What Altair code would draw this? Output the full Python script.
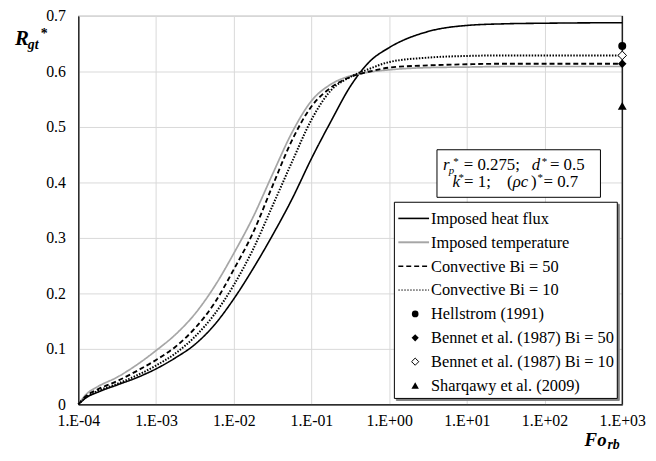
import json
import altair as alt
import pandas as pd

# ---------------- data ----------------
fo = [1e-4, 1.26e-4, 1.78e-4, 3.16e-4, 5.62e-4, 1e-3, 1.78e-3, 3.16e-3, 5.62e-3,
      1e-2, 1.78e-2, 3.16e-2, 5.62e-2, 1e-1, 1.78e-1, 3.16e-1, 5.62e-1,
      1.0, 3.16, 10.0, 31.6, 100.0, 1000.0]
heat_flux = [0, 0.012, 0.022, 0.035, 0.048, 0.064, 0.084, 0.108, 0.143, 0.190,
             0.245, 0.305, 0.370, 0.443, 0.510, 0.573, 0.618, 0.643, 0.672,
             0.683, 0.686, 0.687, 0.688]
imposed_temp = [0, 0.018, 0.032, 0.049, 0.071, 0.097, 0.126, 0.163, 0.212, 0.272,
                0.338, 0.415, 0.490, 0.547, 0.577, 0.592, 0.599, 0.603, 0.607,
                0.608, 0.609, 0.609, 0.609]
conv_bi50 = [0, 0.015, 0.027, 0.042, 0.060, 0.080, 0.104, 0.137, 0.182, 0.243,
             0.310, 0.394, 0.476, 0.537, 0.571, 0.590, 0.600, 0.607, 0.611,
             0.613, 0.614, 0.614, 0.614]
conv_bi10 = [0, 0.013, 0.024, 0.037, 0.052, 0.070, 0.092, 0.122, 0.162, 0.215,
             0.280, 0.358, 0.437, 0.513, 0.566, 0.590, 0.605, 0.617, 0.625,
             0.628, 0.629, 0.629, 0.629]

series_names = ["Imposed heat flux", "Imposed temperature",
                "Convective Bi = 50", "Convective Bi = 10"]
point_names = ["Hellstrom (1991)", "Bennet et al. (1987) Bi = 50",
               "Bennet et al. (1987) Bi = 10", "Sharqawy et al. (2009)"]
point_fo = [1000.0, 1000.0, 1000.0, 1000.0]
point_r = [0.646, 0.614, 0.629, 0.538]

x_ticks = [1e-4, 1e-3, 1e-2, 1e-1, 1e0, 1e1, 1e2, 1e3]
x_tick_labels = ["1.E-04", "1.E-03", "1.E-02", "1.E-01",
                 "1.E+00", "1.E+01", "1.E+02", "1.E+03"]
y_ticks = [0, 0.1, 0.2, 0.3, 0.4, 0.5, 0.6, 0.7]

# ---------------- styling ----------------
W, H = 549, 392
SERIF = "Liberation Serif, Times New Roman, Times, DejaVu Serif, serif"
GRID = "#d9d9d9"
GRAY = "#a6a6a6"

rows = []
for name, vals in zip(series_names, [heat_flux, imposed_temp, conv_bi50, conv_bi10]):
    for f, r in zip(fo, vals):
        rows.append({"Fo": f, "R": r, "series": name})
df_lines = pd.DataFrame(rows)

xs = alt.Scale(type="log", domain=[1e-4, 1e3])
ys = alt.Scale(domain=[0, 0.7], nice=False)

x_axis = alt.Axis(values=x_ticks, title=None, grid=True, gridColor=GRID,
                  ticks=False, domainColor="black", domainWidth=1.2,
                  labelFont=SERIF, labelFontSize=16, labelColor="black",
                  labelPadding=8, labelFlush=False, labelOverlap=False,
                  labelExpr=json.dumps(x_tick_labels) +
                  "[round(log(datum.value)/LN10)+4]")
y_axis = alt.Axis(values=y_ticks, title=None, grid=True, gridColor=GRID,
                  ticks=False, domainColor="black", domainWidth=1.2,
                  labelFont=SERIF, labelFontSize=16, labelColor="black",
                  labelPadding=13, labelFlush=False, labelOverlap=False,
                  format=".1~f")

X = alt.X("Fo:Q", scale=xs, axis=x_axis)
Y = alt.Y("R:Q", scale=ys, axis=y_axis)

lines = alt.Chart(df_lines).mark_line(interpolate="monotone").encode(
    x=X, y=Y,
    color=alt.Color("series:N", legend=None,
                    scale=alt.Scale(domain=series_names,
                                    range=["black", GRAY, "black", "black"])),
    strokeDash=alt.StrokeDash("series:N", legend=None,
                              scale=alt.Scale(domain=series_names,
                                              range=[[1, 0], [1, 0], [5, 3], [1.5, 1.5]])),
    strokeWidth=alt.StrokeWidth("series:N", legend=None,
                                scale=alt.Scale(domain=series_names,
                                                range=[1.6, 2.0, 1.5, 1.2])),
)

right_rule = alt.Chart(pd.DataFrame({"Fo": [1000.0], "R": [0.0], "R2": [0.7]})).mark_rule(
    color="black", strokeWidth=1.2).encode(x=X, y=Y, y2="R2:Q")

df_pts = pd.DataFrame({"Fo": point_fo, "R": point_r, "name": point_names})
pt_styles = [
    dict(shape="circle", filled=True, color="black", size=65),
    dict(shape="diamond", filled=True, color="black", size=75),
    dict(shape="diamond", filled=True, fill="white", stroke="black", strokeWidth=1, size=75),
    dict(shape="triangle-up", filled=True, color="black", size=80),
]
pts = []
for name, st in zip(point_names, pt_styles):
    pts.append(alt.Chart(df_pts[df_pts["name"] == name]).mark_point(opacity=1, **st)
               .encode(x=X, y=Y))

one = alt.Data(values=[{"a": 1}])


def txt(t, x, y, size=17, style="normal", weight="normal", align="left"):
    return alt.Chart(one).mark_text(text=t, font=SERIF, fontSize=size, fontStyle=style,
                                    fontWeight=weight, align=align, baseline="alphabetic",
                                    color="black").encode(x=alt.value(x), y=alt.value(y))


def box(x1, y1, x2, y2, stroke="black", fill="white", sw=1):
    return alt.Chart(one).mark_rect(fill=fill, stroke=stroke, strokeWidth=sw).encode(
        x=alt.value(x1), x2=alt.value(x2), y=alt.value(y1), y2=alt.value(y2))


# axis titles
titles = [
    txt("R", -64, 29, 21, "italic", "bold"),
    txt("gt", -51, 33, 14, "italic", "bold"),
    txt("*", -38, 22, 14, "normal", "bold"),
    txt("Fo", 511, 434, 19, "italic", "bold"),
    txt("rb", 534, 437.5, 14, "italic", "bold"),
]

# annotation box
annot = [
    box(362, 135, 527, 183),
    txt("r", 368, 155, 17, "italic"),
    txt("p", 374, 159, 11, "italic"),
    txt("*", 378.5, 150, 11),
    txt("= 0.275;", 389, 155, 17),
    txt("d", 457.7, 155, 17, "italic"),
    txt("*", 467.7, 150, 11),
    txt("= 0.5", 476, 155, 17),
    txt("k", 377.7, 172.7, 17, "italic"),
    txt("*", 383.7, 167, 11),
    txt("= 1;", 389.3, 172.7, 17),
    txt("(", 432.7, 172.7, 17),
    txt("ρc", 438.4, 172.7, 17, "italic"),
    txt(")", 457, 172.7, 17),
    txt("*", 463.5, 167, 11),
    txt("= 0.7", 469.5, 172.7, 17),
]

# legend
leg_x1, leg_y1, leg_x2, leg_y2 = 319, 188, 544, 386
legend = [box(leg_x1 + 2, leg_y1 + 2, leg_x2 + 2, leg_y2 + 2, stroke="#7f7f7f", fill="#7f7f7f"),
          box(leg_x1, leg_y1, leg_x2, leg_y2)]
row_y = [204.3, 228.4, 252.5, 276.6, 300.7, 324.8, 348.9, 373.0]
line_samples = [
    dict(color="black", strokeWidth=1.6),
    dict(color=GRAY, strokeWidth=2),
    dict(color="black", strokeWidth=1.5, strokeDash=[5, 3]),
    dict(color="black", strokeWidth=1.0, strokeDash=[1.5, 1.5]),
]
for i, (name, st) in enumerate(zip(series_names, line_samples)):
    legend.append(alt.Chart(one).mark_rule(**st).encode(
        x=alt.value(323), x2=alt.value(354), y=alt.value(row_y[i])))
    legend.append(txt(name, 356, row_y[i] + 5.5, 16.5))
for j, (name, st) in enumerate(zip(point_names, pt_styles)):
    st2 = dict(st)
    st2["size"] = st["size"] * 0.7
    legend.append(alt.Chart(one).mark_point(opacity=1, **st2).encode(
        x=alt.value(340), y=alt.value(row_y[4 + j])))
    legend.append(txt(name, 356, row_y[4 + j] + 5.5, 16.5))

chart = alt.layer(lines, right_rule, *pts, *titles, *annot, *legend).properties(
    width=W, height=H,
    autosize=alt.AutoSizeParams(type="none"),
    padding={"left": 71, "top": 6, "right": 26, "bottom": 47},
).configure_view(stroke="#7f7f7f", strokeWidth=1.2)

chart.save("out.html", embed_options={"renderer": "svg", "actions": False})
